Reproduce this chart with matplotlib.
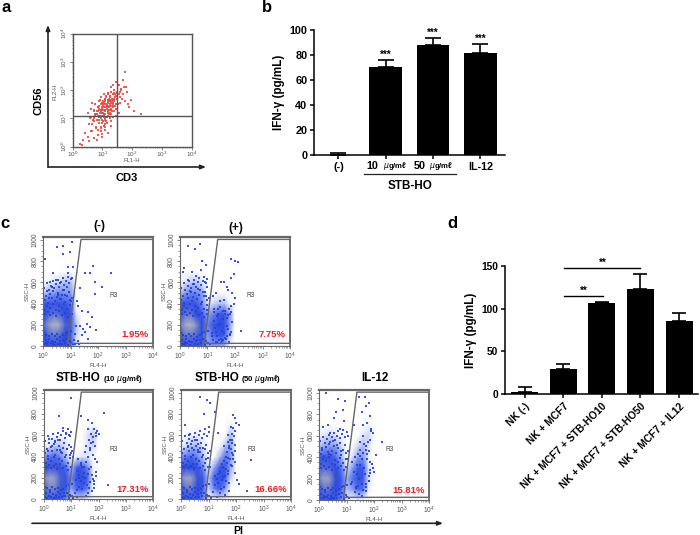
import numpy as np
import matplotlib
matplotlib.use("Agg")
import matplotlib.pyplot as plt
from matplotlib.colors import LinearSegmentedColormap
from matplotlib.ticker import LogLocator, NullFormatter, FixedLocator

plt.rcParams['font.family'] = ['Liberation Sans', 'DejaVu Sans']

# panel a, log10 of CD3 / CD56
a_x = [.35,.42,.5,.55,.6,.65,.7,.72,.78,.8,.85,.85,.9,.9,.95,.95,1,1,1,1.02,1.05,1.05,1.08,1.1,1.1,1.1,1.12,1.15,1.15,1.18,1.2,1.2,1.2,1.22,1.25,1.25,1.28,1.3,1.3,1.3,1.32,1.35,1.35,1.38,1.4,1.4,1.42,1.45,1.45,1.48,1.5,1.5,1.55,1.55,1.6,1.62,1.65,1.7,1.75,1.8,1.85,1.9,2.05,2.3,1.76,.25,.3,.55,.62,.7,.8,.88,.92,.98,1.03,1.08,1.12,1.17,1.22,1.27,1.33,1.37,1.43,1.47,1.52,1.58,.95,1.0,1.05,1.1,1.15,1.2,.85,.9,1.25,1.3,.75,.68,1.1,1.0,.92,1.18,1.26,1.34,1.42,1.5,1.56,1.64,1.72,
       .5,.58,.62,.66,.7,.74,.76,.78,.82,.82,.84,.86,.88,.88,.92,.94,.96,.98,1,1.02,1.04,1.04,1.06,1.08,1.1,1.12,1.14,1.16,1.18,1.2,1.22,1.24,1.26,1.28,1.3,1.32,1.34,1.36,1.38,1.4,1.02,1.06,1.1,1.14,1.18,1.22,1.26,1.3,.9,.94,.98,1.02,1.06,1.1,.78,.84,.72,.66,.95,1.0,1.05,1.12,1.2,1.28,1.35,1.45,1.6,1.68,1.82,1.95,.92,.98,1.04,1.1,1.16,1.22,1.28,1.34,1.4,1.46]
a_y = [.25,.5,.35,.8,1.05,.55,.9,1.3,.7,1.15,.4,1.4,.95,1.6,.65,1.25,.45,.85,1.1,1.45,.75,1.3,1.0,.6,1.15,1.5,1.75,.85,1.35,1.1,.5,1.25,1.6,1.45,1.0,1.8,1.3,.75,1.15,1.55,1.7,1.05,1.4,1.9,1.25,1.6,1.75,1.1,1.5,1.95,1.35,1.7,1.2,1.85,1.55,2.05,1.7,1.85,1.6,2.1,1.5,1.4,1.25,1.15,2.65,.1,.05,.2,.55,.3,.25,1.05,1.2,.95,1.2,.95,1.4,1.2,1.15,1.5,1.25,1.65,1.45,1.8,1.5,1.95,1.0,1.3,1.05,1.3,1.05,1.4,1.25,1.1,1.65,1.45,1.1,.95,1.65,1.55,1.3,1.55,1.6,1.55,1.85,1.9,2.2,2.0,2.1,
       1.2,1.0,1.35,.8,1.0,1.15,1.5,.65,.95,1.25,.6,1.1,.85,1.35,1.1,.7,1.5,1.2,1.35,.9,1.15,1.55,1.4,.7,1.25,.9,1.45,1.05,1.65,1.25,1.4,1.2,1.75,.9,1.35,1.6,1.85,1.5,1.7,2.0,1.6,1.1,1.7,1.45,1.85,1.3,1.6,1.95,1.45,1.75,1.2,1.5,1.85,.8,1.15,1.4,1.25,1.55,.55,.35,.75,1.8,1.9,2.1,2.2,2.3,1.75,2.35,1.95,1.65,1.65,1.4,1.05,1.6,1.5,1.7,1.3,1.45,1.65,1.35]

# panel b
b_groups = ['(-)', 'IL-12']
b_values = [0, 70.5, 88, 81.5]
b_errors = [1.5, 5, 5, 7]
b_stars = ['', '***', '***', '***']

# panel d
d_groups = ['NK (-)', 'NK + MCF7', 'NK + MCF7 + STB-HO10', 'NK + MCF7 + STB-HO50', 'NK + MCF7 + IL12']
d_values = [3, 30, 106.5, 123, 86]
d_errors = [5, 5.5, 1.5, 17, 8.5]

# panel c, estimated dot density, rows SSC 0..800 (step 100), cols log FL4 0..2.2 (step .2)
dens_neg = [[.4,.45,.45,.45,.4,.3,.1,.03,.02,0,0,0],[.6,.7,.75,.7,.6,.35,.12,.05,.02,0,0,0],[.7,.9,1,.95,.7,.4,.15,.06,.03,0,0,0],[.6,.7,.75,.7,.55,.4,.1,.04,.02,0,0,0],[.35,.4,.4,.4,.35,.3,.06,.03,0,0,0,0],[.12,.2,.22,.25,.22,.22,.04,.02,0,0,0,0],[.05,.08,.1,.12,.15,.15,.02,0,0,0,0,0],[.02,.03,.04,.05,.07,.06,.01,0,0,0,0,0],[.01,.02,.02,.03,.04,.03,0,0,0,0,0,0]]
dens_pos = [[.4,.45,.45,.4,.35,.2,.2,.2,.18,.05,0,0],[.65,.75,.75,.7,.45,.2,.3,.38,.35,.15,0,0],[.75,.95,1,.85,.55,.25,.35,.5,.5,.22,.02,0],[.65,.75,.75,.6,.4,.2,.25,.35,.42,.22,.02,0],[.4,.45,.4,.35,.25,.1,.12,.15,.15,.08,0,0],[.15,.22,.25,.25,.2,.04,.06,.06,.05,.03,0,0],[.06,.1,.14,.14,.1,.02,.03,.03,.03,.01,0,0],[.02,.04,.05,.05,.04,.01,.01,.01,.01,0,0,0],[.01,.02,.02,.02,.02,0,0,0,0,0,0,0]]
dens_10 = [[.35,.4,.4,.35,.25,.12,.12,.12,.08,.02,0,0],[.7,.8,.8,.65,.4,.2,.3,.35,.25,.05,0,0],[.8,.95,.9,.7,.45,.25,.42,.45,.32,.08,0,0],[.6,.65,.65,.5,.3,.15,.32,.38,.25,.08,0,0],[.22,.28,.3,.25,.15,.05,.08,.1,.1,.06,.01,0],[.07,.1,.14,.14,.1,.02,.02,.04,.1,.12,.02,0],[.03,.05,.06,.07,.06,.01,.01,.03,.1,.15,.02,0],[.01,.01,.02,.02,.02,0,.01,.02,.04,.06,.01,0],[0,.01,.01,.01,.01,0,0,.01,.01,.02,0,0]]
dens_50 = [[.4,.45,.45,.35,.25,.08,.06,.08,.06,.02,0,0],[.65,.75,.75,.55,.35,.12,.25,.32,.22,.06,0,0],[.8,.95,.9,.65,.4,.14,.32,.42,.38,.12,.01,0],[.55,.62,.6,.45,.25,.08,.18,.38,.42,.2,.02,0],[.22,.28,.3,.25,.15,.03,.04,.15,.28,.22,.03,0],[.08,.12,.16,.16,.1,.02,.02,.05,.14,.22,.03,0],[.02,.05,.08,.08,.06,.01,.01,.01,.06,.16,.04,0],[.01,.02,.03,.03,.03,0,0,.01,.03,.08,.03,0],[0,.01,.01,.01,.01,0,0,0,.01,.02,.01,0]]
dens_il = [[.4,.42,.42,.35,.25,.1,.06,.08,.06,.02,0,0],[.65,.75,.72,.55,.32,.15,.2,.3,.28,.08,0,0],[.8,.95,.88,.62,.35,.18,.28,.4,.38,.1,0,0],[.7,.72,.68,.5,.28,.1,.2,.36,.36,.1,0,0],[.38,.42,.4,.3,.18,.05,.1,.2,.22,.08,0,0],[.15,.2,.22,.2,.12,.02,.05,.12,.16,.1,.01,0],[.07,.1,.12,.1,.07,.01,.02,.06,.1,.12,.02,0],[.02,.04,.04,.04,.03,0,.01,.03,.06,.08,.01,0],[.01,.02,.02,.02,.01,0,0,.02,.04,.03,0,0]]

# dots seen around the left cloud in all five plots
cloud_x = [.03,.08,.12,.18,.22,.27,.33,.38,.44,.5,.55,.6,.66,.72,.78,.84,.9,.96,1.02,1.08,.05,.1,.16,.24,.3,.36,.42,.48,.54,.62,.68,.74,.8,.86,.92,.98,1.04,.04,.14,.2,.28,.34,.4,.46,.52,.58,.64,.7,.76,.82,.88,.94,1.0,.06,.15,.25,.35,.45,.56,.67,.77,.87,.97,.02,.11,.21,.31,.41,.51,.61,.71,.81,.91,1.01,.07,.17,.26,.37,.47,.57,.69,.79,.89,.99]
cloud_y = [20,60,15,35,70,25,50,10,40,65,22,48,18,55,30,62,12,44,28,16,430,470,410,490,450,520,420,460,500,440,480,530,415,470,510,435,455,550,590,530,570,610,545,585,625,560,600,640,575,615,655,590,630,340,380,360,400,335,375,355,395,345,385,120,105,90,115,95,110,85,100,125,130,140,300,320,290,310,280,330,295,315,275,305]

# scattered dots of each gate plot, log FL4 / SSC
neg_x = [1.82,2.46,1.70,1.52,1.88,2.12,1.88,1.64,1.76,1.92,1.58,1.33,1.39,1.27,1.33,1.24,1.2,1.17,1.39,1.52,1.64,1.7,.51,.73,1.03,.97,.73,.06,.91,1.09,.36,.91,.24,.61,1.03,.85,.7,.45,.3,.15,.55,.8,.95,1.0,.65,.2,.4,.6,.9,1.1,1.15,1.25,1.3,1.45,1.05,.1,.35,.75]
neg_y = [755,690,684,684,607,552,490,316,270,147,208,193,331,377,546,423,190,115,100,130,70,180,929,945,981,883,868,822,745,745,684,684,607,592,638,560,530,620,560,520,480,480,510,420,440,450,40,20,30,60,20,45,15,160,300,30,15,50]
pos_x = [.3,.55,.72,.8,.93,1.85,2.0,2.1,1.95,1.85,1.6,1.7,1.5,1.75,1.9,2.0,1.95,1.85,2.2,.15,.45,.6,.75,.9,.3,.1,.5,.65,.85,1.0,.7,.55,.4,.95,1.2,1.3,1.45,1.6,1.78,1.85,1.65,1.4,1.25,1.15,1.55,1.72,1.35,1.5,1.8,1.0,.2,.35,.78,.62,
         1.15,1.22,1.28,1.34,1.4,1.46,1.52,1.58,1.64,1.7,1.76,1.82,1.88,1.2,1.3,1.4,1.5,1.6,1.7,1.8,1.25,1.35,1.45,1.55,1.65,1.75,1.85,1.3,1.42,1.54,1.66,1.78]
pos_y = [940,910,960,800,760,820,800,790,680,640,600,560,600,530,500,450,400,380,140,740,700,660,720,600,620,700,580,540,510,560,480,500,510,470,470,500,420,430,350,320,300,350,320,90,60,90,40,30,110,340,20,40,30,60,
         120,240,170,90,300,210,140,330,80,260,160,300,230,60,130,200,70,120,190,100,350,280,370,250,330,290,130,40,60,50,70,40]
p10_x = [1.0,.55,.2,.4,.7,.9,1.0,.3,.5,.8,1.35,1.6,1.75,1.85,1.95,2.0,2.2,1.55,1.65,1.72,1.8,1.9,1.7,1.5,1.62,1.78,1.88,1.95,1.45,1.35,1.25,1.15,1.4,1.6,1.85,1.55,2.35,.15,.6,.85,1.05,.35,.65,.95,1.9,1.3,1.75,1.2,.45,.75,
         1.18,1.24,1.3,1.36,1.42,1.48,1.54,1.6,1.66,1.72,1.78,1.84,1.9,1.22,1.34,1.46,1.58,1.7,1.82,1.28,1.4,1.52,1.64,1.76,1.68,1.74,1.8,1.86,1.92,1.6]
p10_y = [950,780,570,540,670,600,490,500,560,620,780,740,720,660,640,610,810,500,560,610,540,590,460,440,400,420,380,350,300,340,380,60,100,60,170,30,130,450,460,470,400,400,430,420,260,200,80,20,20,30,
         180,270,120,320,210,150,350,240,110,300,190,140,220,90,170,250,130,160,110,230,300,200,280,230,480,530,580,500,620,660]
p50_x = [.7,.95,1.05,.3,.5,.15,.85,.62,1.0,1.25,1.35,1.55,1.7,1.8,1.9,1.95,2.0,2.1,1.85,1.95,1.7,1.75,1.85,1.9,1.62,1.55,1.8,1.65,1.5,1.35,1.25,1.15,1.95,2.05,2.1,2.56,2.4,.4,.6,.8,.1,.25,.45,.7,.9,1.05,1.4,1.6,1.75,1.3,
         1.25,1.3,1.36,1.42,1.48,1.54,1.6,1.66,1.72,1.78,1.84,1.9,1.96,1.68,1.74,1.8,1.86,1.92,1.98,1.72,1.78,1.84,1.9,1.96,1.46,1.52,1.58,1.64,1.7,1.76]
p50_y = [960,930,900,600,560,700,800,520,680,820,620,500,600,680,790,760,720,700,560,640,540,480,430,380,400,360,320,280,330,240,220,70,250,180,140,370,80,480,460,480,300,500,420,440,380,300,60,40,80,20,
         130,190,150,260,180,300,220,340,270,380,310,420,350,440,500,470,530,590,510,390,560,610,670,450,100,210,120,170,240,150]
p_il_x = [.25,.7,.95,.6,.85,.15,.3,.55,.75,.4,.9,1.05,.5,.65,1.25,1.45,1.65,1.7,1.55,1.8,1.85,1.6,1.75,1.9,1.95,1.85,1.7,1.5,1.4,1.3,1.2,1.6,1.75,1.85,1.95,2.0,2.3,2.05,1.15,1.45,1.7,.1,.35,.8,1.0,1.35,1.55,1.8,.45,.2,
          1.2,1.26,1.32,1.38,1.44,1.5,1.56,1.62,1.68,1.74,1.8,1.86,1.92,1.3,1.4,1.5,1.6,1.7,1.8,1.36,1.48,1.6,1.72,1.84,1.55,1.62,1.69,1.76,1.83,1.9]
p_il_y = [1000,940,920,820,840,680,700,760,660,620,740,600,550,510,700,960,960,880,820,900,780,700,720,660,620,560,500,540,430,400,350,600,430,350,300,260,540,420,150,60,80,480,430,460,380,110,40,180,20,30,
          170,260,120,330,200,410,150,300,240,380,180,280,340,70,130,470,90,150,220,240,330,440,120,250,380,520,470,540,460,640]

panel_boxes = {'neg': (43.3, 237.3, 153.3, 346), 'pos': (180, 237.3, 290, 346),
               '10': (44, 390, 153, 499.3), '50': (181, 390, 291, 499.3), 'il': (319.3, 390, 429, 500)}

fig = plt.figure(figsize=(7, 5.35), dpi=100)


def ax_px(x0, y0, x1, y1):
    return fig.add_axes([x0 / 700, 1 - y1 / 535, (x1 - x0) / 700, (y1 - y0) / 535])


# overlay in pixel units for labels and arrows
bg = fig.add_axes([0, 0, 1, 1])
bg.set_xlim(0, 700)
bg.set_ylim(535, 0)
bg.axis('off')


def arrow(x0, y0, x1, y1):
    bg.annotate('', xy=(x1, y1), xytext=(x0, y0),
                arrowprops=dict(arrowstyle='-|>,head_width=0.12,head_length=0.3', lw=1.2, color='#222222', shrinkA=0, shrinkB=0))


def label(x, y, s, size=8, **kw):
    bg.text(x, y, s, fontsize=size, fontweight=kw.pop('weight', 'bold'), ha=kw.pop('ha', 'center'), va='center', **kw)


def log_axes(axis):
    axis.set_major_locator(LogLocator(base=10, numticks=6))
    axis.set_minor_locator(LogLocator(base=10, subs=np.arange(2, 10), numticks=6))
    axis.set_minor_formatter(NullFormatter())


for s, x, y in [('a', 6, 8), ('b', 267, 8), ('c', 5, 223), ('d', 452, 223)]:
    label(x, y, s, size=12)

# a
ax = ax_px(72.7, 33.7, 191.7, 146.7)
ax.scatter(10.0 ** np.array(a_x), 10.0 ** np.array(a_y), s=1.2, marker='s', color='#ea4a42', lw=0, alpha=.9)
ax.set_xscale('log')
ax.set_yscale('log')
ax.set_xlim(1, 1e4)
ax.set_ylim(1, 1e4)
log_axes(ax.xaxis)
log_axes(ax.yaxis)
ax.axvline(10 ** 1.5, color='#555555', lw=1)
ax.axhline(10 ** 1.07, color='#555555', lw=1)
ax.tick_params(which='major', length=2, width=.5, labelsize=4.6, pad=.5, colors='#555555')
ax.tick_params(which='minor', length=1, width=.4, colors='#555555')
ax.tick_params(axis='y', labelrotation=90)
for t in ax.get_yticklabels():
    t.set_va('center')
for sp in ax.spines.values():
    sp.set_color('#555555')
    sp.set_linewidth(1)
arrow(48, 167, 48, 25)
arrow(48, 167, 206, 167)
label(39, 101, 'CD56', rotation=90)
label(127, 178, 'CD3')
label(55, 92, 'FL2-H', size=4.2, weight='normal', rotation=90, color='#555555')
label(131.5, 161, 'FL1-H', size=4.2, weight='normal', color='#555555')

# b
ax = ax_px(314.3, 29.7, 505, 155.3)
ax.bar(range(4), b_values, width=.69, color='black')
ax.errorbar(range(4), b_values, yerr=[[0] * 4, b_errors], fmt='none', ecolor='black', elinewidth=1.2, capsize=6, capthick=1.2)
ax.set_xlim(-.51, 3.52)
ax.set_ylim(0, 100)
ax.set_yticks(range(0, 101, 20))
ax.set_xticks(range(4))
ax.set_xticklabels([b_groups[0], '', '', b_groups[1]])
ax.tick_params(length=3, width=1.1, labelsize=7.8, pad=2)
for t in ax.get_xticklabels() + ax.get_yticklabels():
    t.set_fontweight('bold')
for i, s in enumerate(b_stars):
    ax.text(i, b_values[i] + b_errors[i] + .2, s, ha='center', va='bottom', fontsize=7, fontweight='bold')
ax.spines[['top', 'right']].set_visible(False)
ax.spines[['left', 'bottom']].set_linewidth(1.1)
ax.set_facecolor('none')
ax.set_ylabel('IFN-\u03b3 (pg/mL)', fontsize=8.4, fontweight='bold', labelpad=3)
label(372, 166, '10', size=7.8)
label(395, 165.5, '$\\mu$g/m\u2113', size=5.6)
label(420, 166, '50', size=7.8)
label(441, 165.5, '$\\mu$g/m\u2113', size=5.6)
bg.plot([364, 455.7], [173.7, 173.7], color='#222222', lw=.9)
label(410, 186, 'STB-HO', size=8.4)

# c
cmap = LinearSegmentedColormap.from_list('flow', [(0, '#ffffff'), (.06, '#ffffff'), (.16, '#a8b8f4'), (.32, '#3c5ae8'), (.6, '#2846d8'),
                                                  (.82, '#7a88c8'), (1, '#b2b5c8')])
col_log = np.arange(12) * .2
row_ssc = np.arange(9) * 100


def gate_plot(key, dens, px, py, pct, pct_y=.11):
    ax = ax_px(*panel_boxes[key])
    ax.pcolormesh(10.0 ** col_log, row_ssc, np.array(dens), shading='gouraud', cmap=cmap, vmin=0, vmax=1, zorder=1)
    ax.scatter(10.0 ** np.array(px), py, s=1.5, marker='s', color='#2340e0', lw=0, alpha=.9, zorder=2)
    ax.scatter(10.0 ** np.array(cloud_x), cloud_y, s=1.5, marker='s', color='#2340e0', lw=0, alpha=.9, zorder=2)
    ax.set_xscale('log')
    ax.set_xlim(1, 1e4)
    ax.set_ylim(0, 1025)
    log_axes(ax.xaxis)
    ax.yaxis.set_major_locator(FixedLocator(range(0, 1001, 200)))
    ax.yaxis.set_minor_locator(FixedLocator(range(0, 1001, 50)))
    ax.plot([7.7, 23.5, 1e4, 1e4, 7.7, 7.7], [25, 1005, 1005, 25, 25, 25], color='#666666', lw=1, zorder=3, clip_on=False)
    ax.tick_params(which='major', length=2.5, width=.5, labelsize=4.8, pad=1, colors='#555555')
    ax.tick_params(which='minor', length=1.2, width=.4, colors='#555555')
    ax.tick_params(axis='y', labelrotation=90)
    for t in ax.get_yticklabels():
        t.set_va('center')
    for sp in ax.spines.values():
        sp.set_color('#666666')
        sp.set_linewidth(.8)
    ax.spines['top'].set_linewidth(1.6)
    ax.spines['right'].set_linewidth(1.2)
    ax.set_xlabel('FL4-H', fontsize=4.5, color='#555555', labelpad=.5)
    ax.set_ylabel('SSC-H', fontsize=4.5, color='#555555', labelpad=1)
    ax.text(.64, .46, 'R3', transform=ax.transAxes, fontsize=4.8, color='#444444', ha='center', va='center', zorder=4)
    ax.text(.96, pct_y, pct, transform=ax.transAxes, fontsize=6.8, fontweight='bold', color='#f01c24', ha='right', va='center', zorder=4)


gate_plot('neg', dens_neg, neg_x, neg_y, '1.95%')
gate_plot('pos', dens_pos, pos_x, pos_y, '7.75%')
gate_plot('10', dens_10, p10_x, p10_y, '17.31%', pct_y=.09)
gate_plot('50', dens_50, p50_x, p50_y, '16.66%', pct_y=.09)
gate_plot('il', dens_il, p_il_x, p_il_y, '15.81%', pct_y=.09)

label(99, 225.7, '(-)', size=8.4)
label(235.7, 227.7, '(+)', size=8.4)
bg.text(56, 378, 'STB-HO', fontsize=8.4, fontweight='bold', va='center')
bg.text(103, 379, '(10 $\\mu$g/m\u2113)', fontsize=5.6, fontweight='bold', va='center')
bg.text(195, 378, 'STB-HO', fontsize=8.4, fontweight='bold', va='center')
bg.text(241, 379, '(50 $\\mu$g/m\u2113)', fontsize=5.6, fontweight='bold', va='center')
label(375, 378, 'IL-12', size=8.4)
arrow(32, 523.3, 443, 523.3)
label(238, 530.5, 'PI', size=7.5)

# d
ax = ax_px(505, 265.7, 698, 394.3)
ax.bar(range(5), d_values, width=.7, color='black')
ax.errorbar(range(5), d_values, yerr=[[0] * 5, d_errors], fmt='none', ecolor='black', elinewidth=1.2, capsize=5, capthick=1.2)
ax.set_xlim(-.51, 4.49)
ax.set_ylim(0, 150)
ax.set_yticks([0, 50, 100, 150])
ax.set_xticks(range(5))
ax.set_xticklabels(d_groups, rotation=45, ha='right', rotation_mode='anchor')
ax.tick_params(length=3, width=1.1, labelsize=7.4, pad=2)
for t in ax.get_xticklabels() + ax.get_yticklabels():
    t.set_fontweight('bold')
ax.spines[['top', 'right']].set_visible(False)
ax.spines[['left', 'bottom']].set_linewidth(1.1)
ax.set_ylabel('IFN-\u03b3 (pg/mL)', fontsize=8.4, fontweight='bold', labelpad=3)
ax.plot([1.02, 3.0], [147.5, 147.5], color='black', lw=1, clip_on=False)
ax.plot([1.02, 2.04], [115, 115], color='black', lw=1)
ax.text(2.02, 147, '**', ha='center', va='bottom', fontsize=7, fontweight='bold', clip_on=False)
ax.text(1.52, 114.5, '**', ha='center', va='bottom', fontsize=7, fontweight='bold')

fig.savefig('out.png', dpi=100)
